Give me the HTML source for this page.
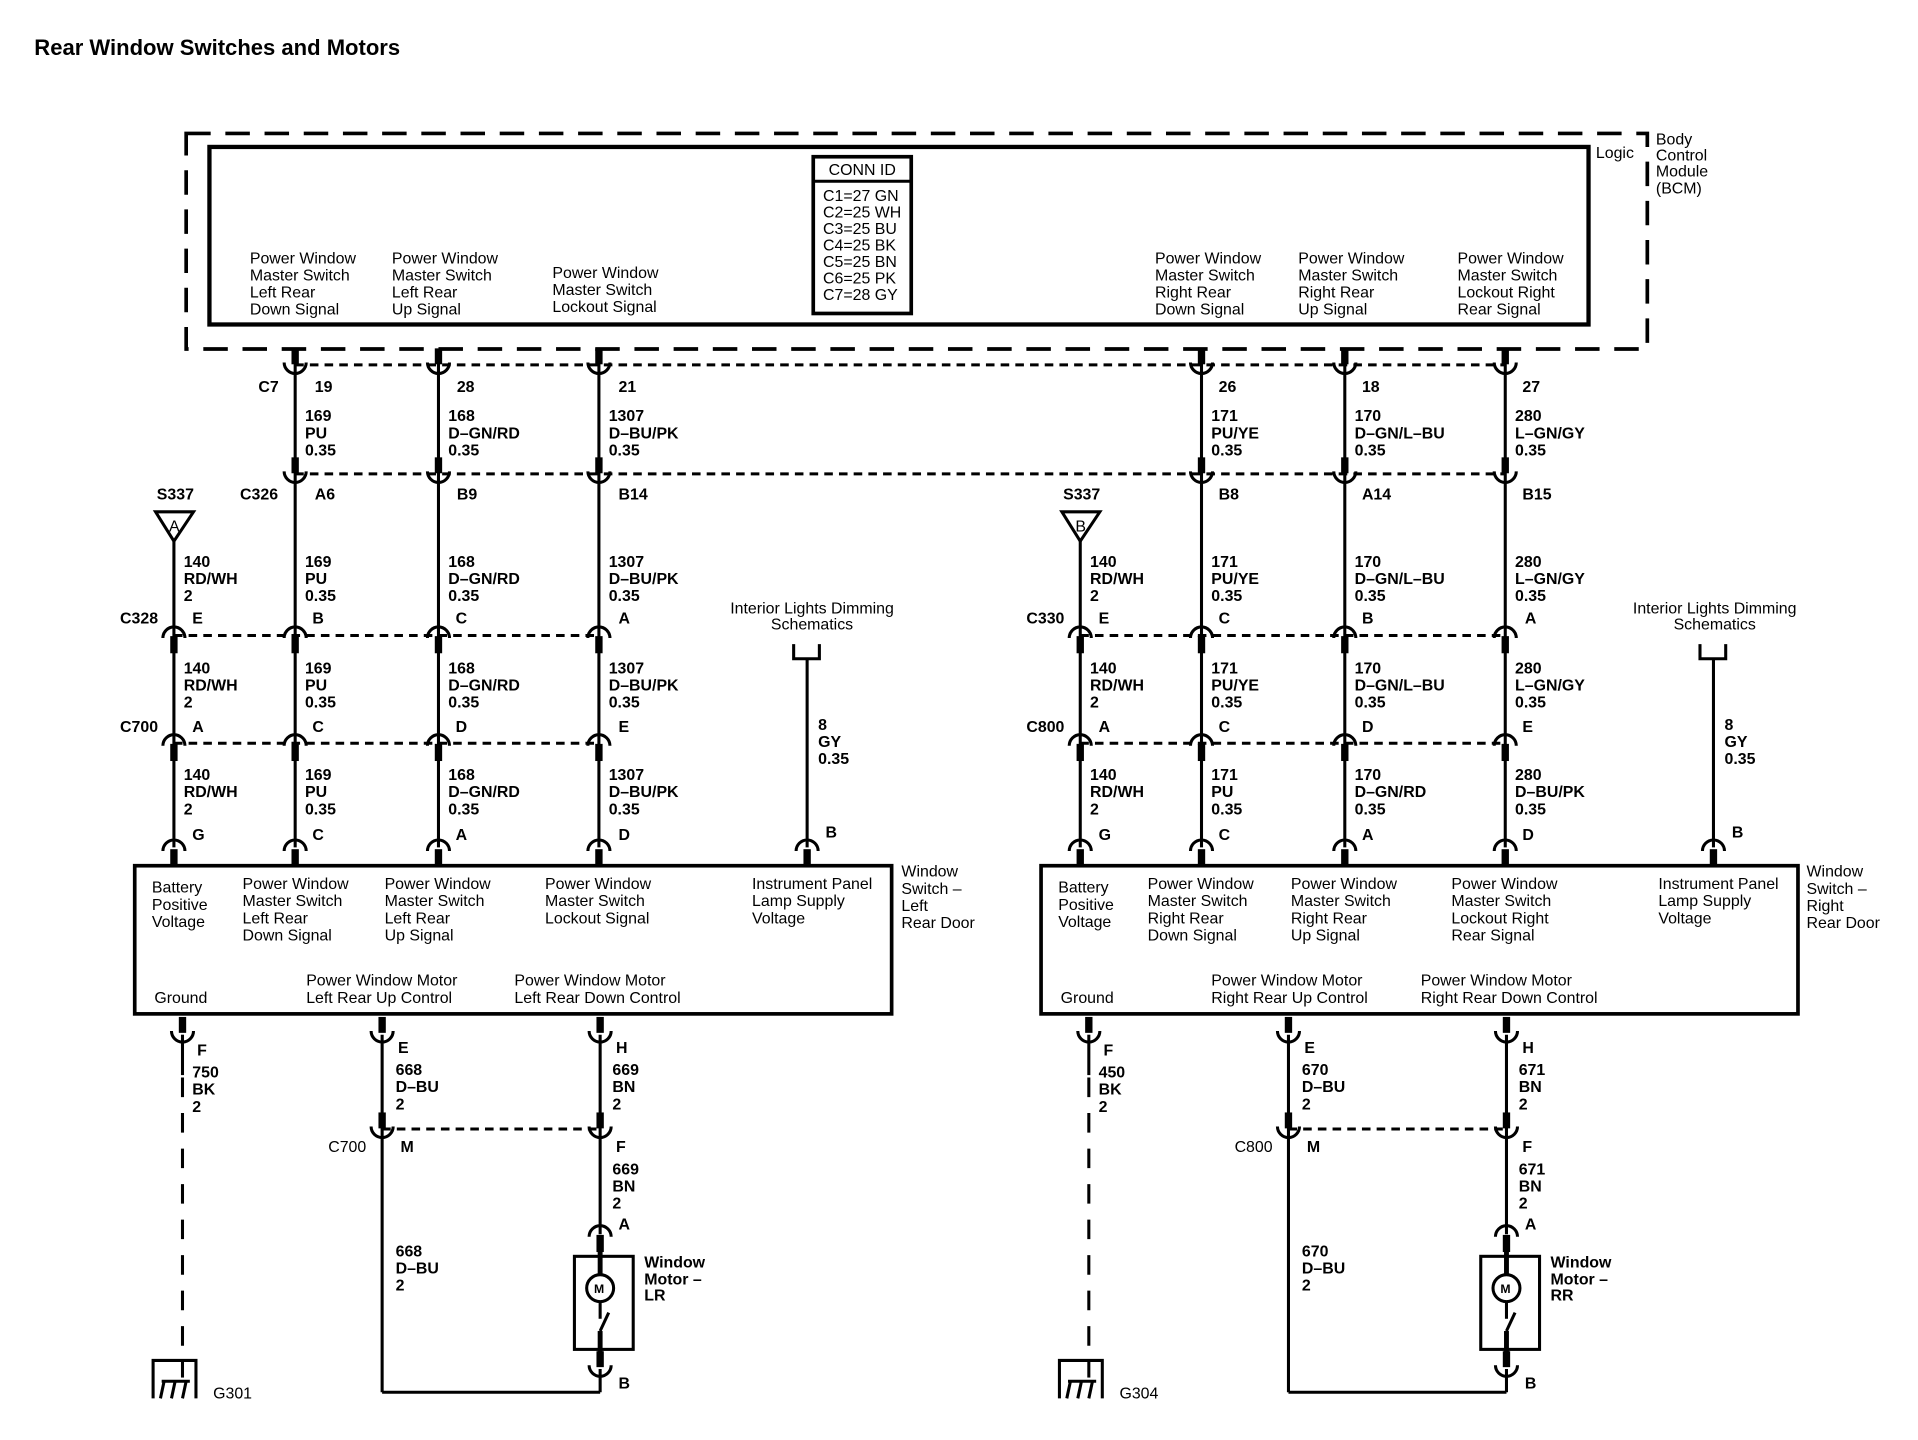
<!DOCTYPE html>
<html><head><meta charset="utf-8"><style>
html,body{margin:0;padding:0;background:#fff;}
svg{display:block;}
text{font-family:"Liberation Sans Narrow","Liberation Sans",sans-serif;font-size:13px;fill:#000;}
.b{font-weight:bold;}
</style></head><body>
<svg width="1918" height="1440" viewBox="0 0 1566 1176" preserveAspectRatio="none" xmlns="http://www.w3.org/2000/svg">
<defs>
<g id="cu"><rect x="-2.5" y="-13" width="5" height="12" fill="#000"/><path d="M-9,-2 A9,9 0 0,0 9,-2" fill="none" stroke="#000" stroke-width="2.5"/></g>
<g id="ca"><path d="M-9,2 A9,9 0 0,1 9,2" fill="none" stroke="#000" stroke-width="2.5"/><rect x="-2.5" y="1" width="5" height="13" fill="#000"/></g>
<g id="side" stroke="#000" fill="none">
  <g stroke-width="2.5">
    <line x1="241" y1="297" x2="241" y2="692"/>
    <line x1="358" y1="297" x2="358" y2="692"/>
    <line x1="489" y1="297" x2="489" y2="692"/>
    <line x1="142" y1="441" x2="142" y2="692"/>
    <line x1="659" y1="538" x2="659" y2="692"/>
    <polyline points="648,526 648,538 669,538 669,526"/>
    <line x1="149" y1="845" x2="149" y2="878"/>
    <line x1="312" y1="845" x2="312" y2="1137"/>
    <line x1="490" y1="845" x2="490" y2="1008"/>
    <line x1="312" y1="1137" x2="490" y2="1137"/>
    <line x1="490" y1="1118" x2="490" y2="1137"/>
  </g>
  <line x1="149" y1="880" x2="149" y2="1112" stroke-width="2.5" stroke-dasharray="16,13"/>
  <g stroke-width="2.5" stroke-dasharray="7,5">
    <line x1="142" y1="519" x2="489" y2="519"/>
    <line x1="142" y1="607" x2="489" y2="607"/>
    <line x1="312" y1="922" x2="490" y2="922"/>
  </g>
  <polygon points="127,418 158,418 142,442" stroke-width="2.5"/>
  <rect x="110" y="707" width="618" height="121" stroke-width="3"/>
  <rect x="469" y="1026" width="48" height="76" stroke-width="2.5"/>
  <circle cx="490" cy="1052" r="11" stroke-width="2.5"/>
  <line x1="490" y1="1016" x2="490" y2="1041" stroke-width="4"/>
  <line x1="490" y1="1063" x2="490" y2="1077" stroke-width="2.5"/>
  <line x1="490" y1="1087" x2="497" y2="1072" stroke-width="2.5"/>
  <line x1="490" y1="1087" x2="490" y2="1112" stroke-width="4"/>
  <polyline points="125,1142 125,1111 160,1111 160,1142" stroke-width="2.5"/>
  <line x1="149" y1="1111" x2="149" y2="1125" stroke-width="2.5"/>
  <g stroke-width="2.5"><line x1="131" y1="1142" x2="134" y2="1128"/><line x1="140" y1="1142" x2="143" y2="1128"/><line x1="149" y1="1142" x2="152" y2="1128"/><line x1="132" y1="1128" x2="155" y2="1128"/></g>
  <use href="#cu" x="241" y="298"/><use href="#cu" x="358" y="298"/><use href="#cu" x="489" y="298"/>
  <use href="#cu" x="241" y="387"/><use href="#cu" x="358" y="387"/><use href="#cu" x="489" y="387"/>
  <use href="#ca" x="142" y="519"/><use href="#ca" x="241" y="519"/><use href="#ca" x="358" y="519"/><use href="#ca" x="489" y="519"/>
  <use href="#ca" x="142" y="607"/><use href="#ca" x="241" y="607"/><use href="#ca" x="358" y="607"/><use href="#ca" x="489" y="607"/>
  <use href="#ca" x="142" y="693"/><use href="#ca" x="241" y="693"/><use href="#ca" x="358" y="693"/><use href="#ca" x="489" y="693"/><use href="#ca" x="659" y="693"/>
  <use href="#cu" x="149" y="844"/><use href="#cu" x="312" y="844"/><use href="#cu" x="490" y="844"/>
  <use href="#cu" x="312" y="922"/><use href="#cu" x="490" y="922"/>
  <use href="#ca" x="490" y="1008"/>
  <use href="#cu" x="490" y="1117"/>
</g>
</defs>

<text x="28" y="45" class="b" style="font-family:'Liberation Sans',sans-serif;font-size:18px">Rear Window Switches and Motors</text>

<rect x="152" y="109" width="1193" height="176" fill="none" stroke="#000" stroke-width="3" stroke-dasharray="20,12"/>
<rect x="171" y="120" width="1126" height="145" fill="none" stroke="#000" stroke-width="3.5"/>
<rect x="664" y="128" width="80" height="128" fill="none" stroke="#000" stroke-width="3"/>
<line x1="664" y1="148" x2="744" y2="148" stroke="#000" stroke-width="2.5"/>
<text x="704" y="143" text-anchor="middle">CONN ID</text>
<g><text x="672" y="164">C1=27 GN</text><text x="672" y="177.5">C2=25 WH</text><text x="672" y="191">C3=25 BU</text><text x="672" y="204.5">C4=25 BK</text><text x="672" y="218">C5=25 BN</text><text x="672" y="231.5">C6=25 PK</text><text x="672" y="245">C7=28 GY</text></g>
<text x="1303" y="129">Logic</text>
<text x="1352" y="118">Body</text><text x="1352" y="131">Control</text><text x="1352" y="144">Module</text><text x="1352" y="158">(BCM)</text>

<g>
<text x="204" y="215">Power Window</text><text x="204" y="229">Master Switch</text><text x="204" y="243">Left Rear</text><text x="204" y="257">Down Signal</text>
<text x="320" y="215">Power Window</text><text x="320" y="229">Master Switch</text><text x="320" y="243">Left Rear</text><text x="320" y="257">Up Signal</text>
<text x="451" y="227">Power Window</text><text x="451" y="241">Master Switch</text><text x="451" y="255">Lockout Signal</text>
<text x="943" y="215">Power Window</text><text x="943" y="229">Master Switch</text><text x="943" y="243">Right Rear</text><text x="943" y="257">Down Signal</text>
<text x="1060" y="215">Power Window</text><text x="1060" y="229">Master Switch</text><text x="1060" y="243">Right Rear</text><text x="1060" y="257">Up Signal</text>
<text x="1190" y="215">Power Window</text><text x="1190" y="229">Master Switch</text><text x="1190" y="243">Lockout Right</text><text x="1190" y="257">Rear Signal</text>
</g>

<g stroke="#000" stroke-width="2.5" stroke-dasharray="7,5">
<line x1="241" y1="298" x2="1229" y2="298"/>
<line x1="241" y1="387" x2="1229" y2="387"/>
</g>

<use href="#side"/>
<use href="#side" x="740"/>

<g class="b">
<text x="211" y="320">C7</text><text x="257" y="320">19</text><text x="373" y="320">28</text><text x="505" y="320">21</text>
<text x="249" y="344">169</text><text x="249" y="358">PU</text><text x="249" y="372">0.35</text>
<text x="366" y="344">168</text><text x="366" y="358">D–GN/RD</text><text x="366" y="372">0.35</text>
<text x="497" y="344">1307</text><text x="497" y="358">D–BU/PK</text><text x="497" y="372">0.35</text>
<text x="196" y="408">C326</text><text x="257" y="408">A6</text><text x="373" y="408">B9</text><text x="505" y="408">B14</text>
<text x="128" y="408">S337</text><text x="138" y="434" style="font-weight:normal">A</text>
<text x="150" y="463">140</text><text x="150" y="477">RD/WH</text><text x="150" y="491">2</text>
<text x="249" y="463">169</text><text x="249" y="477">PU</text><text x="249" y="491">0.35</text>
<text x="366" y="463">168</text><text x="366" y="477">D–GN/RD</text><text x="366" y="491">0.35</text>
<text x="497" y="463">1307</text><text x="497" y="477">D–BU/PK</text><text x="497" y="491">0.35</text>
<text x="98" y="509">C328</text><text x="157" y="509">E</text><text x="255" y="509">B</text><text x="372" y="509">C</text><text x="505" y="509">A</text>
<text x="150" y="550">140</text><text x="150" y="564">RD/WH</text><text x="150" y="578">2</text>
<text x="249" y="550">169</text><text x="249" y="564">PU</text><text x="249" y="578">0.35</text>
<text x="366" y="550">168</text><text x="366" y="564">D–GN/RD</text><text x="366" y="578">0.35</text>
<text x="497" y="550">1307</text><text x="497" y="564">D–BU/PK</text><text x="497" y="578">0.35</text>
<text x="98" y="598">C700</text><text x="157" y="598">A</text><text x="255" y="598">C</text><text x="372" y="598">D</text><text x="505" y="598">E</text>
<text x="150" y="637">140</text><text x="150" y="651">RD/WH</text><text x="150" y="665">2</text>
<text x="249" y="637">169</text><text x="249" y="651">PU</text><text x="249" y="665">0.35</text>
<text x="366" y="637">168</text><text x="366" y="651">D–GN/RD</text><text x="366" y="665">0.35</text>
<text x="497" y="637">1307</text><text x="497" y="651">D–BU/PK</text><text x="497" y="665">0.35</text>
<text x="668" y="596">8</text><text x="668" y="610">GY</text><text x="668" y="624">0.35</text>
<text x="157" y="686">G</text><text x="255" y="686">C</text><text x="372" y="686">A</text><text x="505" y="686">D</text><text x="674" y="684">B</text>
<text x="161" y="862">F</text><text x="157" y="880">750</text><text x="157" y="894">BK</text><text x="157" y="908">2</text>
<text x="325" y="860">E</text><text x="323" y="878">668</text><text x="323" y="892">D–BU</text><text x="323" y="906">2</text>
<text x="503" y="860">H</text><text x="500" y="878">669</text><text x="500" y="892">BN</text><text x="500" y="906">2</text>
<text x="327" y="941">M</text><text x="503" y="941">F</text>
<text x="500" y="959">669</text><text x="500" y="973">BN</text><text x="500" y="987">2</text>
<text x="505" y="1004">A</text>
<text x="323" y="1026">668</text><text x="323" y="1040">D–BU</text><text x="323" y="1054">2</text>
<text x="485" y="1056" style="font-size:10px">M</text>
<text x="526" y="1035">Window</text><text x="526" y="1049">Motor –</text><text x="526" y="1062">LR</text>
<text x="505" y="1134">B</text>
</g>
<text x="268" y="941">C700</text>
<text x="174" y="1142">G301</text>
<text x="663" y="501" text-anchor="middle">Interior Lights Dimming</text><text x="663" y="514" text-anchor="middle">Schematics</text>
<g>
<text x="124" y="729">Battery</text><text x="124" y="743">Positive</text><text x="124" y="757">Voltage</text>
<text x="198" y="726">Power Window</text><text x="198" y="740">Master Switch</text><text x="198" y="754">Left Rear</text><text x="198" y="768">Down Signal</text>
<text x="314" y="726">Power Window</text><text x="314" y="740">Master Switch</text><text x="314" y="754">Left Rear</text><text x="314" y="768">Up Signal</text>
<text x="445" y="726">Power Window</text><text x="445" y="740">Master Switch</text><text x="445" y="754">Lockout Signal</text>
<text x="614" y="726">Instrument  Panel</text><text x="614" y="740">Lamp Supply</text><text x="614" y="754">Voltage</text>
<text x="736" y="716">Window</text><text x="736" y="730">Switch –</text><text x="736" y="744">Left</text><text x="736" y="758">Rear Door</text>
<text x="126" y="819">Ground</text>
<text x="250" y="805">Power Window Motor</text><text x="250" y="819">Left Rear Up Control</text>
<text x="420" y="805">Power Window Motor</text><text x="420" y="819">Left Rear Down Control</text>
</g>

<g class="b">
<text x="995" y="320">26</text><text x="1112" y="320">18</text><text x="1243" y="320">27</text>
<text x="989" y="344">171</text><text x="989" y="358">PU/YE</text><text x="989" y="372">0.35</text>
<text x="1106" y="344">170</text><text x="1106" y="358">D–GN/L–BU</text><text x="1106" y="372">0.35</text>
<text x="1237" y="344">280</text><text x="1237" y="358">L–GN/GY</text><text x="1237" y="372">0.35</text>
<text x="995" y="408">B8</text><text x="1112" y="408">A14</text><text x="1243" y="408">B15</text>
<text x="868" y="408">S337</text><text x="878" y="434" style="font-weight:normal">B</text>
<text x="890" y="463">140</text><text x="890" y="477">RD/WH</text><text x="890" y="491">2</text>
<text x="989" y="463">171</text><text x="989" y="477">PU/YE</text><text x="989" y="491">0.35</text>
<text x="1106" y="463">170</text><text x="1106" y="477">D–GN/L–BU</text><text x="1106" y="491">0.35</text>
<text x="1237" y="463">280</text><text x="1237" y="477">L–GN/GY</text><text x="1237" y="491">0.35</text>
<text x="838" y="509">C330</text><text x="897" y="509">E</text><text x="995" y="509">C</text><text x="1112" y="509">B</text><text x="1245" y="509">A</text>
<text x="890" y="550">140</text><text x="890" y="564">RD/WH</text><text x="890" y="578">2</text>
<text x="989" y="550">171</text><text x="989" y="564">PU/YE</text><text x="989" y="578">0.35</text>
<text x="1106" y="550">170</text><text x="1106" y="564">D–GN/L–BU</text><text x="1106" y="578">0.35</text>
<text x="1237" y="550">280</text><text x="1237" y="564">L–GN/GY</text><text x="1237" y="578">0.35</text>
<text x="838" y="598">C800</text><text x="897" y="598">A</text><text x="995" y="598">C</text><text x="1112" y="598">D</text><text x="1243" y="598">E</text>
<text x="890" y="637">140</text><text x="890" y="651">RD/WH</text><text x="890" y="665">2</text>
<text x="989" y="637">171</text><text x="989" y="651">PU</text><text x="989" y="665">0.35</text>
<text x="1106" y="637">170</text><text x="1106" y="651">D–GN/RD</text><text x="1106" y="665">0.35</text>
<text x="1237" y="637">280</text><text x="1237" y="651">D–BU/PK</text><text x="1237" y="665">0.35</text>
<text x="1408" y="596">8</text><text x="1408" y="610">GY</text><text x="1408" y="624">0.35</text>
<text x="897" y="686">G</text><text x="995" y="686">C</text><text x="1112" y="686">A</text><text x="1243" y="686">D</text><text x="1414" y="684">B</text>
<text x="901" y="862">F</text><text x="897" y="880">450</text><text x="897" y="894">BK</text><text x="897" y="908">2</text>
<text x="1065" y="860">E</text><text x="1063" y="878">670</text><text x="1063" y="892">D–BU</text><text x="1063" y="906">2</text>
<text x="1243" y="860">H</text><text x="1240" y="878">671</text><text x="1240" y="892">BN</text><text x="1240" y="906">2</text>
<text x="1067" y="941">M</text><text x="1243" y="941">F</text>
<text x="1240" y="959">671</text><text x="1240" y="973">BN</text><text x="1240" y="987">2</text>
<text x="1245" y="1004">A</text>
<text x="1063" y="1026">670</text><text x="1063" y="1040">D–BU</text><text x="1063" y="1054">2</text>
<text x="1225" y="1056" style="font-size:10px">M</text>
<text x="1266" y="1035">Window</text><text x="1266" y="1049">Motor –</text><text x="1266" y="1062">RR</text>
<text x="1245" y="1134">B</text>
</g>
<text x="1008" y="941">C800</text>
<text x="914" y="1142">G304</text>
<text x="1400" y="501" text-anchor="middle">Interior Lights Dimming</text><text x="1400" y="514" text-anchor="middle">Schematics</text>
<g>
<text x="864" y="729">Battery</text><text x="864" y="743">Positive</text><text x="864" y="757">Voltage</text>
<text x="937" y="726">Power Window</text><text x="937" y="740">Master Switch</text><text x="937" y="754">Right Rear</text><text x="937" y="768">Down Signal</text>
<text x="1054" y="726">Power Window</text><text x="1054" y="740">Master Switch</text><text x="1054" y="754">Right Rear</text><text x="1054" y="768">Up Signal</text>
<text x="1185" y="726">Power Window</text><text x="1185" y="740">Master Switch</text><text x="1185" y="754">Lockout Right</text><text x="1185" y="768">Rear Signal</text>
<text x="1354" y="726">Instrument  Panel</text><text x="1354" y="740">Lamp Supply</text><text x="1354" y="754">Voltage</text>
<text x="1475" y="716">Window</text><text x="1475" y="730">Switch –</text><text x="1475" y="744">Right</text><text x="1475" y="758">Rear Door</text>
<text x="866" y="819">Ground</text>
<text x="989" y="805">Power Window Motor</text><text x="989" y="819">Right Rear Up Control</text>
<text x="1160" y="805">Power Window Motor</text><text x="1160" y="819">Right Rear Down Control</text>
</g>
</svg>
</body></html>
